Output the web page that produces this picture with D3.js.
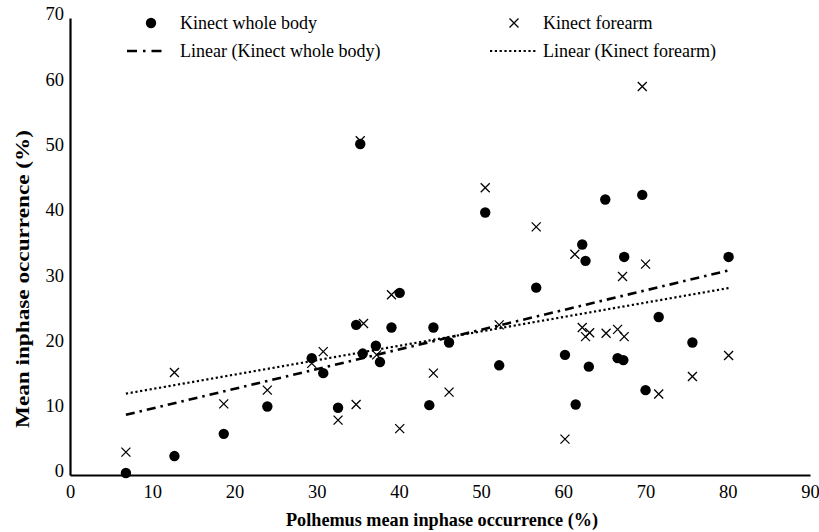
<!DOCTYPE html>
<html>
<head>
<meta charset="utf-8">
<script src="https://cdn.jsdelivr.net/npm/d3@7"></script>
<style>
  body { margin: 0; background: #fff; }
  text { font-family: "Liberation Serif", "Times New Roman", serif; fill: #000; }
</style>
</head>
<body>
<svg id="chart" width="819" height="532"></svg>
<script>
// Kinect whole body (filled circles)
const bodyX = [6.8, 12.7, 18.7, 24.0, 29.4, 30.8, 32.6, 34.8, 35.3, 35.6, 37.2, 37.7, 39.1, 40.1, 43.7, 44.2, 46.1,
  50.5, 52.2, 56.7, 60.2, 61.5, 62.3, 62.7, 63.1, 65.1, 66.6, 67.3, 67.4, 69.6, 70.0, 71.6, 75.7, 80.1];
const bodyY = [0.3, 2.9, 6.3, 10.5, 17.9, 15.6, 10.3, 23.0, 50.7, 18.6, 19.8, 17.3, 22.6, 27.9, 10.7, 22.6, 20.3,
  40.2, 16.8, 28.7, 18.4, 10.8, 35.3, 32.8, 16.6, 42.2, 17.9, 17.6, 33.4, 42.9, 13.0, 24.2, 20.3, 33.4];

// Kinect forearm (crosses)
const forearmX = [6.8, 12.7, 18.7, 24.0, 29.4, 30.8, 32.6, 34.8, 35.3, 35.7, 37.3, 39.1, 40.1, 44.2, 46.1, 50.5,
  52.2, 56.7, 60.2, 61.4, 62.3, 62.7, 63.2, 65.2, 66.6, 67.2, 67.4, 69.6, 70.0, 71.6, 75.7, 80.1];
const forearmY = [3.5, 15.7, 10.9, 13.0, 17.1, 18.9, 8.4, 10.8, 51.2, 23.2, 18.4, 27.6, 7.1, 15.6, 12.7, 44.0,
  23.0, 38.0, 5.5, 33.8, 22.6, 21.2, 21.8, 21.7, 22.3, 30.4, 21.2, 59.5, 32.3, 12.4, 15.1, 18.3];

const xTicks = [0, 10, 20, 30, 40, 50, 60, 70, 80, 90];
const yTicks = [0, 10, 20, 30, 40, 50, 60, 70];

const svg = d3.select("#chart");
const plot = { left: 70, right: 810, top: 18, bottom: 475 };

const xScale = d3.scaleLinear().domain([0, 90]).range([plot.left, plot.right]);
const yScale = d3.scaleLinear().domain([0, 70]).range([plot.bottom, plot.top]);

// least squares fit, like the spreadsheet trendline
function linFit(xs, ys) {
  let mx = d3.mean(xs), my = d3.mean(ys);
  let sxy = 0, sxx = 0;
  xs.forEach((x, i) => { sxy += (x - mx) * (ys[i] - my); sxx += (x - mx) * (x - mx); });
  let b = sxy / sxx;
  return { slope: b, intercept: my - b * mx };
}

// axes (no tick marks, just labels)
let xAxis = d3.axisBottom(xScale).tickValues(xTicks).tickSize(0).tickPadding(8);
let yAxis = d3.axisLeft(yScale).tickValues(yTicks).tickSize(0).tickPadding(6);

let gx = svg.append("g").attr("transform", "translate(0," + plot.bottom + ")").call(xAxis);
let gy = svg.append("g").attr("transform", "translate(" + plot.left + ",0)").call(yAxis);
[gx, gy].forEach(g => {
  g.select(".domain").attr("stroke", "#000").attr("stroke-width", 2.2);
  g.selectAll("text").attr("font-size", 18.5).attr("font-family", "Liberation Serif");
});
gx.selectAll("text").attr("dy", "0.8em");
gy.selectAll("text").attr("dy", "0.1em");

// trend lines
function drawTrend(xs, ys, dash) {
  let fit = linFit(xs, ys);
  let x0 = d3.min(xs), x1 = d3.max(xs);
  svg.append("line")
    .attr("x1", xScale(x0)).attr("y1", yScale(fit.intercept + fit.slope * x0))
    .attr("x2", xScale(x1)).attr("y2", yScale(fit.intercept + fit.slope * x1))
    .attr("stroke", "#000")
    .attr("stroke-width", dash.w)
    .attr("stroke-dasharray", dash.pattern);
}
const dashDot = { w: 2.6, pattern: "9,5,2.5,5" };
const dotted = { w: 2.2, pattern: "2.2,2.6" };
drawTrend(bodyX, bodyY, dashDot);
drawTrend(forearmX, forearmY, dotted);

// markers
function cross(g, cx, cy, s) {
  g.append("path")
    .attr("d", `M${cx - s},${cy - s}L${cx + s},${cy + s}M${cx - s},${cy + s}L${cx + s},${cy - s}`)
    .attr("stroke", "#000").attr("stroke-width", 1.3).attr("fill", "none");
}

let forearmG = svg.append("g");
forearmX.forEach((x, i) => cross(forearmG, xScale(x), yScale(forearmY[i]), 4.5));

svg.append("g").selectAll("circle")
  .data(bodyX)
  .enter()
  .append("circle")
  .attr("cx", d => xScale(d))
  .attr("cy", (d, i) => yScale(bodyY[i]))
  .attr("r", 5.2)
  .attr("fill", "#000");

// legend
let legend = svg.append("g");
legend.append("circle").attr("cx", 151).attr("cy", 23).attr("r", 5.2).attr("fill", "#000");
legend.append("text").attr("x", 180).attr("y", 29).attr("font-size", 18).text("Kinect whole body");
legend.append("line").attr("x1", 127).attr("x2", 167).attr("y1", 51).attr("y2", 51)
  .attr("stroke", "#000").attr("stroke-width", dashDot.w).attr("stroke-dasharray", "10,6,2.5,6");
legend.append("text").attr("x", 180).attr("y", 57).attr("font-size", 18).text("Linear (Kinect whole body)");

cross(legend, 514, 23, 4.5);
legend.append("text").attr("x", 543).attr("y", 29).attr("font-size", 18).text("Kinect forearm");
legend.append("line").attr("x1", 490).attr("x2", 537).attr("y1", 51).attr("y2", 51)
  .attr("stroke", "#000").attr("stroke-width", dotted.w).attr("stroke-dasharray", dotted.pattern);
legend.append("text").attr("x", 543).attr("y", 57).attr("font-size", 18).text("Linear (Kinect forearm)");

// axis titles
svg.append("text")
  .attr("x", 442).attr("y", 526)
  .attr("text-anchor", "middle")
  .attr("font-size", 19.5).attr("font-weight", "bold")
  .attr("textLength", 312).attr("lengthAdjust", "spacingAndGlyphs")
  .text("Polhemus mean inphase occurrence (%)");

svg.append("text")
  .attr("transform", "translate(29,279) rotate(-90)")
  .attr("text-anchor", "middle")
  .attr("font-size", 19.5).attr("font-weight", "bold")
  .attr("textLength", 298).attr("lengthAdjust", "spacingAndGlyphs")
  .text("Mean inphase occurrence (%)");
</script>
</body>
</html>
